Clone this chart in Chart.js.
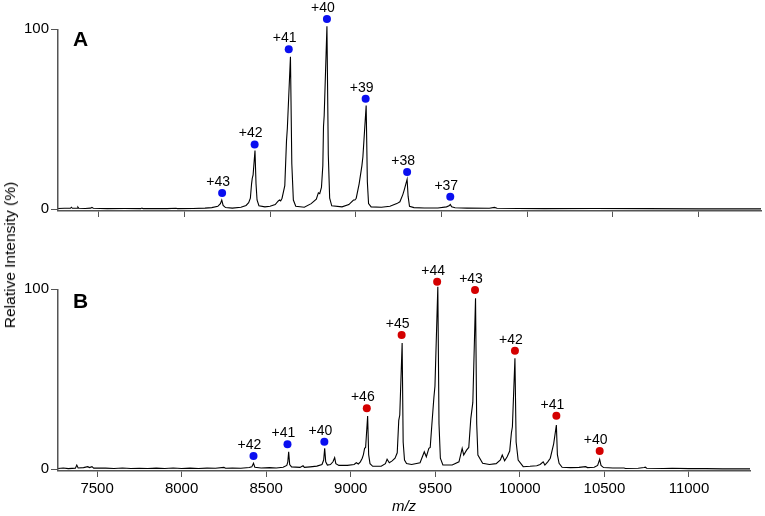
<!DOCTYPE html>
<html>
<head>
<meta charset="utf-8">
<script src="https://cdn.jsdelivr.net/npm/chart.js@4.4.1/dist/chart.umd.min.js"></script>
<style>
    body { margin: 0; background: #fff; }
    #wrap { position: relative; width: 765px; height: 516px; background: #fff; overflow: hidden; }
    canvas { position: absolute; left: 0; }
    #yTitle {
        position: absolute; left: 10px; top: 255px;
        transform: translate(-50%, -50%) rotate(-90deg);
        white-space: nowrap; font: 15.5px 'Liberation Sans', Arial, sans-serif; color: #000;
    }
</style>
</head>
<body>
<div id="wrap">
    <canvas id="chartA" width="765" height="230" style="top:0"></canvas>
    <canvas id="chartB" width="765" height="286" style="top:230px"></canvas>
    <div id="yTitle">Relative Intensity (%)</div>
</div>
<script>
/* tick labels */
const xTicks = [7500, 8000, 8500, 9000, 9500, 10000, 10500, 11000];
const yTicks = [0, 100];

/* panel A spectrum (m/z, relative intensity) */
const mzA = [7262, 7300, 7335, 7340, 7346, 7374, 7378, 7384, 7420, 7452, 7460, 7468, 7550, 7650, 7745, 7752, 7760,
    7900, 7950, 7960, 8050, 8120, 8160, 8195, 8210, 8218, 8226, 8240, 8280, 8330, 8360, 8375, 8385, 8392, 8396,
    8401, 8412, 8418, 8424, 8435, 8470, 8500, 8530, 8548, 8556, 8562, 8570, 8586, 8596, 8601, 8619, 8627, 8636,
    8650, 8700, 8740, 8770, 8782, 8790, 8800, 8808, 8812, 8816, 8832, 8840, 8848, 8860, 8920, 8960, 8987, 8995,
    9003, 9020, 9036, 9042, 9061, 9068, 9075, 9090, 9150, 9200, 9229, 9240, 9258, 9275, 9283, 9300, 9306, 9314,
    9340, 9400, 9480, 9530, 9545, 9552, 9560, 9580, 9650, 9780, 9810, 9825, 9950, 10100, 10400, 10700, 11000, 11366];
const intA = [0.3, 0.4, 0.4, 1.0, 0.4, 0.4, 1.1, 0.4, 0.3, 0.5, 0.9, 0.4, 0.2, 0.3, 0.2, 0.5, 0.2,
    0.2, 0.4, 0.2, 0.3, 0.5, 0.8, 1.5, 3.0, 5.0, 2.0, 0.8, 0.5, 1.0, 2.0, 3.5, 6.0, 14, 17,
    19, 32.5, 14, 5, 1.8, 1.2, 1.5, 2.5, 4.5, 5.0, 4.5, 6, 13, 38, 45, 84.6, 25, 5,
    1.5, 1.0, 3.0, 5.5, 9, 8.5, 12, 24, 46, 52, 101.5, 30, 6, 1.8, 1.2, 2.5, 5, 5,
    6, 14, 24, 29, 57.5, 15, 3, 1.2, 1.0, 1.5, 2.6, 3.0, 4, 8, 10.5, 16.5, 7, 1.5,
    0.8, 0.6, 0.6, 1.2, 1.8, 2.5, 1.2, 0.7, 0.5, 0.4, 0.9, 0.4, 0.3, 0.2, 0.3, 0.2, 0.1, 0.1];

/* panel B spectrum */
const mzB = [7269, 7300, 7330, 7372, 7380, 7388, 7420, 7445, 7455, 7470, 7480, 7550, 7600, 7650, 7700, 7750, 7800,
    7850, 7900, 7950, 8000, 8050, 8100, 8150, 8200, 8250, 8260, 8300, 8350, 8400, 8415, 8425, 8433, 8470, 8520,
    8560, 8600, 8622, 8628, 8633, 8639, 8650, 8700, 8718, 8726, 8760, 8800, 8830, 8840, 8846, 8852, 8862, 8880,
    8895, 8905, 8912, 8930, 8980, 9020, 9033, 9045, 9057, 9068, 9075, 9082, 9088, 9100, 9106, 9114, 9130, 9180,
    9205, 9215, 9228, 9245, 9262, 9275, 9284, 9290, 9304, 9310, 9318, 9330, 9360, 9410, 9435, 9447, 9462, 9470,
    9480, 9492, 9498, 9515, 9522, 9530, 9545, 9600, 9640, 9659, 9668, 9685, 9698, 9710, 9722, 9738, 9745, 9752,
    9780, 9820, 9860, 9885, 9896, 9910, 9925, 9940, 9950, 9956, 9971, 9978, 9990, 10020, 10060, 10100, 10120,
    10138, 10148, 10165, 10180, 10200, 10216, 10222, 10232, 10250, 10300, 10350, 10389, 10400, 10440, 10460,
    10472, 10480, 10495, 10550, 10616, 10625, 10700, 10735, 10742, 10750, 10850, 10900, 11000, 11100, 11200, 11361];
const intB = [0.3, 0.6, 0.2, 0.5, 2.2, 0.6, 0.8, 1.3, 0.8, 1.3, 0.5, 0.5, 0.3, 0.6, 0.3, 0.4, 0.3,
    0.5, 0.3, 0.6, 0.3, 0.5, 0.3, 0.5, 0.4, 0.9, 0.4, 0.5, 0.4, 0.8, 1.2, 3.2, 1.0, 0.6, 0.8,
    0.6, 1.0, 2.0, 4, 9.6, 2.5, 1.2, 0.9, 1.8, 0.9, 1.2, 1.6, 2.5, 5, 11.5, 4, 2.2, 2.5,
    4, 6.3, 3, 2, 2, 2.5, 3.5, 2.8, 4, 6, 8, 11.5, 12, 29.5, 8, 3, 1.5, 1.5,
    3, 5.4, 3.5, 4.5, 6, 9, 27, 30, 70, 15, 5, 3, 2.5, 3.5, 9.6, 6.8, 11.5, 12,
    25, 40, 46, 101.3, 25, 6, 2.2, 2.2, 4, 11.5, 7.8, 10.5, 12, 28, 37, 94.8, 25, 7.8,
    3.2, 2.5, 3, 5, 7.8, 4.6, 6.8, 10, 20, 23.5, 61.5, 15, 5, 1.3, 1.5, 1.8, 2.5,
    4, 2.2, 4, 6, 14, 24.4, 8, 3.2, 1.0, 0.8, 0.9, 1.3, 0.8, 1.0, 2,
    5.4, 2, 0.8, 0.6, 0.6, 0.3, 0.4, 0.8, 1.0, 0.4, 0.3, 0.4, 0.2, 0.2, 0.1, 0.1];

/* charge state markers */
const ionsA = ['+43', '+42', '+41', '+40', '+39', '+38', '+37'];
const ionMzA = [8220, 8410, 8609, 8832, 9058, 9300, 9552];
const ionIntA = [8.9, 35.9, 88.7, 105.6, 61.3, 20.6, 6.8];
const ionSetA = ['first', 'first', 'first', 'first', 'first', 'first', 'first'];

const ionsB = ['+42', '+41', '+40', '+46', '+45', '+44', '+43', '+42', '+41', '+40'];
const ionMzB = [8425, 8626, 8844, 9095, 9301, 9511, 9735, 9971, 10216, 10472];
const ionIntB = [7.2, 13.8, 15.2, 33.7, 74.4, 104, 99.4, 65.7, 29.6, 10];
const ionSetB = ['first', 'first', 'first', 'second', 'second', 'second', 'second', 'second', 'second', 'second'];

const dotColors = { first: '#0a0ff0', second: '#d40000' };
const fontFamily = "'Liberation Sans', Arial, sans-serif";
const axisColor = '#555';

function toPoints(xs, ys) {
    return xs.map((x, i) => ({ x: x, y: ys[i] }));
}

function makeChart(id, cfg) {
    const labelPlugin = {
        id: 'peakLabels',
        afterDraw(chart) {
            const ctx = chart.ctx;
            const xs = chart.scales.x;
            const ys = chart.scales.y;
            const area = chart.chartArea;
            ctx.save();
            // y axis line only spans 0..100
            ctx.strokeStyle = axisColor;
            ctx.lineWidth = 1.5;
            ctx.beginPath();
            ctx.moveTo(area.left - 0.25, ys.getPixelForValue(yTicks[yTicks.length - 1]));
            ctx.lineTo(area.left - 0.25, area.bottom);
            ctx.stroke();

            ctx.fillStyle = '#000';
            ctx.font = '14px ' + fontFamily;
            ctx.textAlign = 'center';
            ctx.textBaseline = 'alphabetic';
            cfg.ions.forEach((txt, i) => {
                const px = xs.getPixelForValue(cfg.ionMz[i]) - 4;
                const py = ys.getPixelForValue(cfg.ionInt[i]) - 7;
                ctx.fillText(txt, px, py);
            });
            /* panel letter */
            ctx.font = 'bold 21px ' + fontFamily;
            ctx.textAlign = 'left';
            ctx.fillText(cfg.letter, 73, cfg.letterY);
            ctx.restore();
        }
    };

    return new Chart(document.getElementById(id), {
        data: {
            datasets: [{
                type: 'line',
                data: toPoints(cfg.mz, cfg.intensity),
                borderColor: '#000',
                borderWidth: 1.1,
                pointRadius: 0,
                tension: 0,
                clip: false
            }, {
                type: 'scatter',
                data: toPoints(cfg.ionMz, cfg.ionInt),
                pointRadius: 4,
                pointBorderWidth: 0,
                pointBackgroundColor: cfg.ionSet.map(s => dotColors[s]),
                clip: false
            }]
        },
        options: {
            responsive: false,
            devicePixelRatio: 1,
            animation: false,
            events: [],
            layout: { padding: { top: cfg.padTop, right: cfg.padRight, left: 0, bottom: 0 } },
            scales: {
                x: {
                    type: 'linear',
                    min: cfg.xMin,
                    max: cfg.xMax,
                    afterBuildTicks: s => { s.ticks = xTicks.map(v => ({ value: v })); },
                    afterFit: s => { s.height = cfg.xHeight; },
                    grid: { drawOnChartArea: false, tickLength: 6, color: axisColor, lineWidth: 1 },
                    border: { color: axisColor, width: 1.5 },
                    ticks: {
                        display: cfg.showX,
                        color: '#000',
                        padding: 3,
                        maxRotation: 0,
                        autoSkip: false,
                        font: { family: fontFamily, size: 15 },
                        callback: v => String(v)
                    },
                    title: {
                        display: cfg.showX,
                        text: 'm/z',
                        color: '#000',
                        padding: { top: 0, bottom: 0 },
                        font: { family: fontFamily, size: 15, style: 'italic' }
                    }
                },
                y: {
                    min: -1.1,
                    max: 110,
                    afterBuildTicks: s => { s.ticks = yTicks.map(v => ({ value: v })); },
                    afterFit: s => { s.width = 58; },
                    grid: { drawOnChartArea: false, tickLength: 7, color: axisColor, lineWidth: 1 },
                    border: { display: false },
                    ticks: {
                        color: '#000',
                        padding: 2,
                        font: { family: fontFamily, size: 15 }
                    }
                }
            },
            plugins: {
                legend: { display: false },
                tooltip: { enabled: false }
            }
        },
        plugins: [labelPlugin]
    });
}

makeChart('chartA', {
    mz: mzA, intensity: intA,
    ions: ionsA, ionMz: ionMzA, ionInt: ionIntA, ionSet: ionSetA,
    letter: 'A', letterY: 46,
    xMin: 7262, xMax: 11366,
    padTop: 11, padRight: 0, xHeight: 19, showX: false
});

makeChart('chartB', {
    mz: mzB, intensity: intB,
    ions: ionsB, ionMz: ionMzB, ionInt: ionIntB, ionSet: ionSetB,
    letter: 'B', letterY: 78,
    xMin: 7269, xMax: 11361,
    padTop: 41, padRight: 15, xHeight: 45, showX: true
});
</script>
</body>
</html>
